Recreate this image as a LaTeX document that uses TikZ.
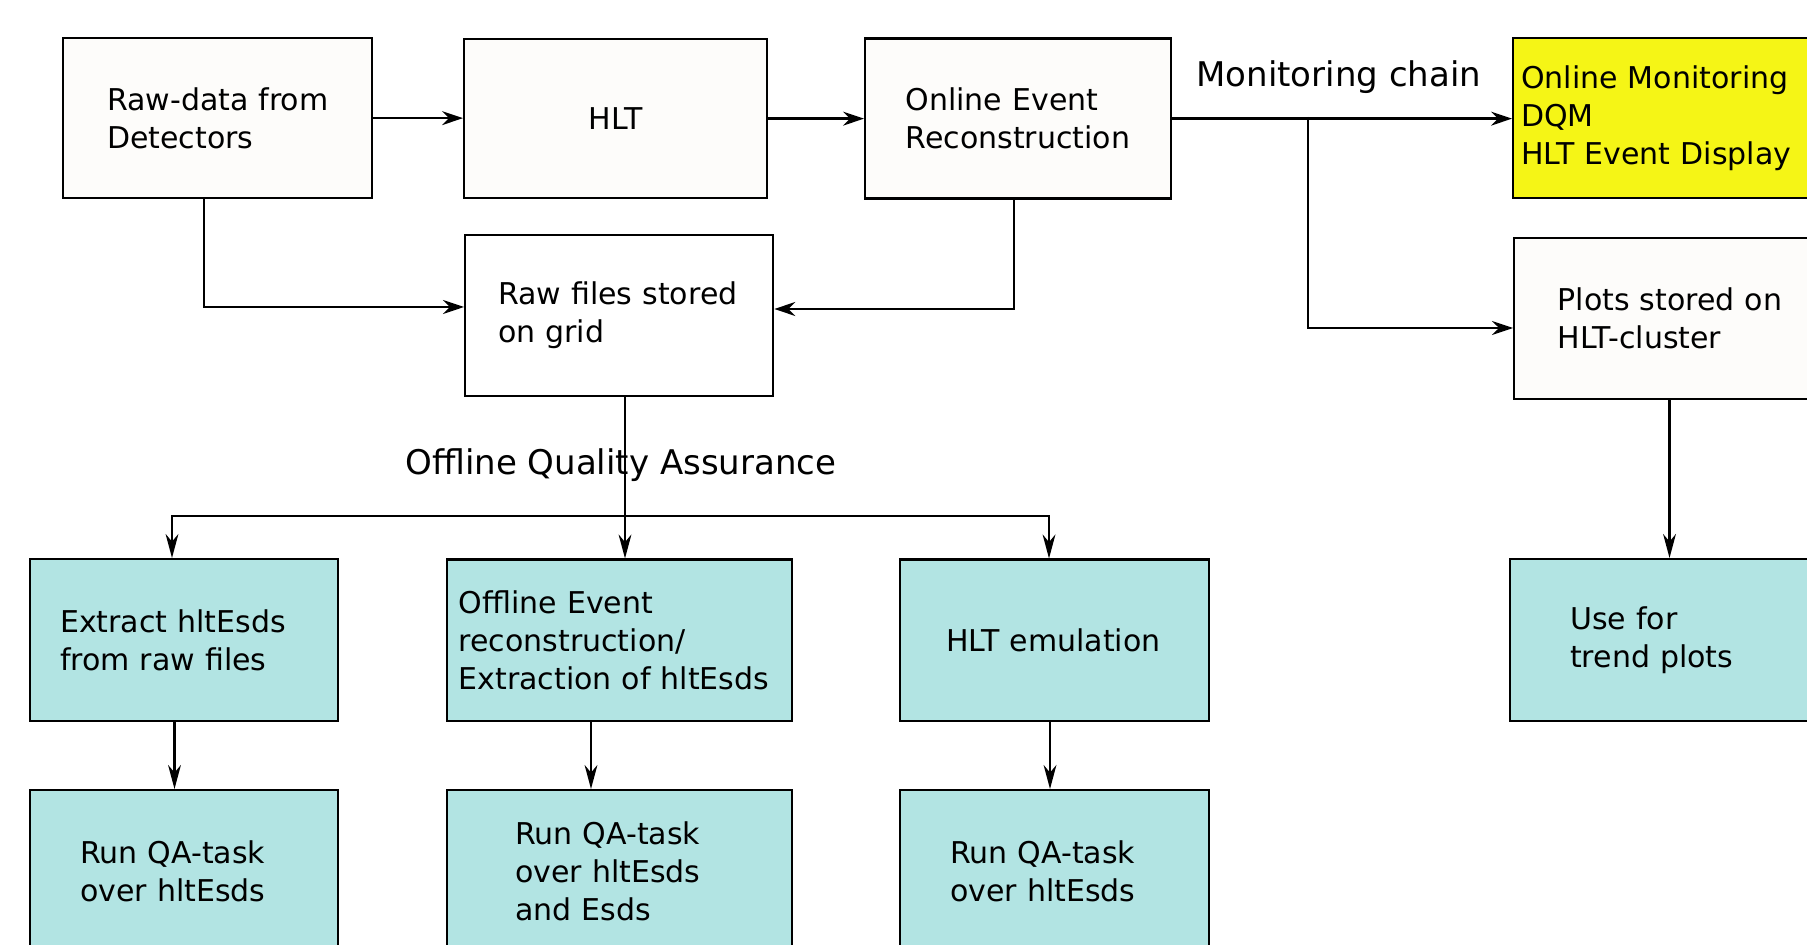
\documentclass[tikz,border=0pt]{standalone}
\usepackage{fontspec}
\setmainfont{DejaVu Sans}
\usetikzlibrary{arrows.meta}
\definecolor{offwhite}{RGB}{253,252,250}
\definecolor{tealbox}{RGB}{178,228,227}
\definecolor{ybox}{RGB}{245,245,22}
\newcommand\boxfont{\fontsize{15pt}{19pt}\selectfont}
\newcommand\labfont{\fontsize{17pt}{20pt}\selectfont}
\begin{document}
\begin{tikzpicture}[x=0.5pt,y=-0.5pt,
  bx/.style={draw=black, line width=1.15pt, anchor=north west, inner xsep=0pt, inner ysep=0pt, align=left, font=\boxfont},
  ind/.style={execute at begin node={\leftskip=#1\relax}},
  arr/.style={line width=1.15pt, -{Stealth[length=10.5pt,width=7pt,inset=3.5pt]}},
  arrv/.style={line width=1.15pt, -{Stealth[length=12pt,width=6.4pt,inset=3.8pt]}},
  lab/.style={anchor=base west, inner sep=0pt, font=\labfont},
]
\useasboundingbox (0,0) rectangle (1807,945);
\clip (0,0) rectangle (1807,945);
\fill[white] (0,0) rectangle (1807,945);

% boxes
\node[bx, fill=offwhite, text width=154.5pt, minimum height=80pt, ind=22pt] (A) at (62,37) {Raw-data from\\Detectors};
\node[bx, fill=offwhite, text width=151.5pt, minimum height=79.5pt, align=center] (HLT) at (463,38) {HLT};
\node[bx, fill=offwhite, text width=152.75pt, minimum height=80pt, ind=20.25pt] (OER) at (864,37.5) {Online Event\\Reconstruction};
\node[bx, fill=ybox, text width=159pt, minimum height=80pt, ind=4pt] (MON) at (1512,37) {Online Monitoring\\DQM\\HLT Event Display};
\node[bx, fill=white, text width=154pt, minimum height=80.5pt, ind=16.5pt] (RAW) at (464,234) {Raw files stored\\on grid};
\node[bx, fill=offwhite, text width=158.5pt, minimum height=80.5pt, ind=21.75pt] (PLOT) at (1513,237) {Plots stored on\\HLT-cluster};
\node[bx, fill=tealbox, text width=154pt, minimum height=81pt, ind=15pt] (EXT) at (29,558) {Extract hltEsds\\from raw files};
\node[bx, fill=tealbox, text width=172.5pt, minimum height=80.75pt, ind=5.75pt] (OE) at (446,558.5) {Offline Event\\reconstruction/\\Extraction of hltEsds};
\node[bx, fill=tealbox, text width=154.5pt, minimum height=80.75pt, ind=23pt] (EMU) at (899,558.5) {HLT emulation};
\node[bx, fill=tealbox, text width=160.5pt, minimum height=81pt, ind=30pt] (TRD) at (1509,558) {Use for\\trend plots};
\node[bx, fill=tealbox, text width=154pt, minimum height=81pt, ind=25pt] (QA1) at (29,789) {Run QA-task\\over hltEsds};
\node[bx, fill=tealbox, text width=172.5pt, minimum height=81pt, ind=34pt] (QA2) at (446,789) {Run QA-task\\over hltEsds\\and Esds};
\node[bx, fill=tealbox, text width=154.5pt, minimum height=81pt, ind=25pt] (QA3) at (899,789) {Run QA-task\\over hltEsds};

% top row connectors
\draw[arr] (A.east) -- (A.east -| HLT.west);
\draw[arr] (HLT.east) -- (HLT.east -| OER.west);
\draw[arr] (OER.east) -- (OER.east -| MON.west);
\coordinate (m1) at (1308,117);
\coordinate (m2) at (1308,328);
\draw[arr] (m1) -- (m2) -- (m2 -| PLOT.west);
\coordinate (a1) at (204,307);
\draw[arr] (a1 |- A.south) -- (a1) -- (a1 -| RAW.west);
\coordinate (o1) at (1014,309);
\draw[arr] (o1 |- OER.south) -- (o1) -- (o1 -| RAW.east);

% offline QA branch
\coordinate (q0) at (625,516);
\coordinate (qL) at (172,516);
\coordinate (qR) at (1049,516);
\draw[line width=1.15pt] (q0 |- RAW.south) -- (q0);
\draw[arrv] (q0) -- (q0 |- OE.north);
\draw[arrv] (q0) -- (qL) -- (qL |- EXT.north);
\draw[arrv] (q0) -- (qR) -- (qR |- EMU.north);

% vertical arrows
\coordinate (x1) at (174.5,0);
\coordinate (x2) at (591,0);
\coordinate (x3) at (1050,0);
\coordinate (x4) at (1669.5,0);
\draw[arrv] (EXT.south -| x1) -- (QA1.north -| x1);
\draw[arrv] (OE.south -| x2) -- (QA2.north -| x2);
\draw[arrv] (EMU.south -| x3) -- (QA3.north -| x3);
\draw[arrv] (PLOT.south -| x4) -- (TRD.north -| x4);

% labels
\node[lab] (mc) at (1196,87) {Monitoring chain};
\node[lab] (oqa) at (405,475) {Offline Quality Assurance};
\end{tikzpicture}
\end{document}
